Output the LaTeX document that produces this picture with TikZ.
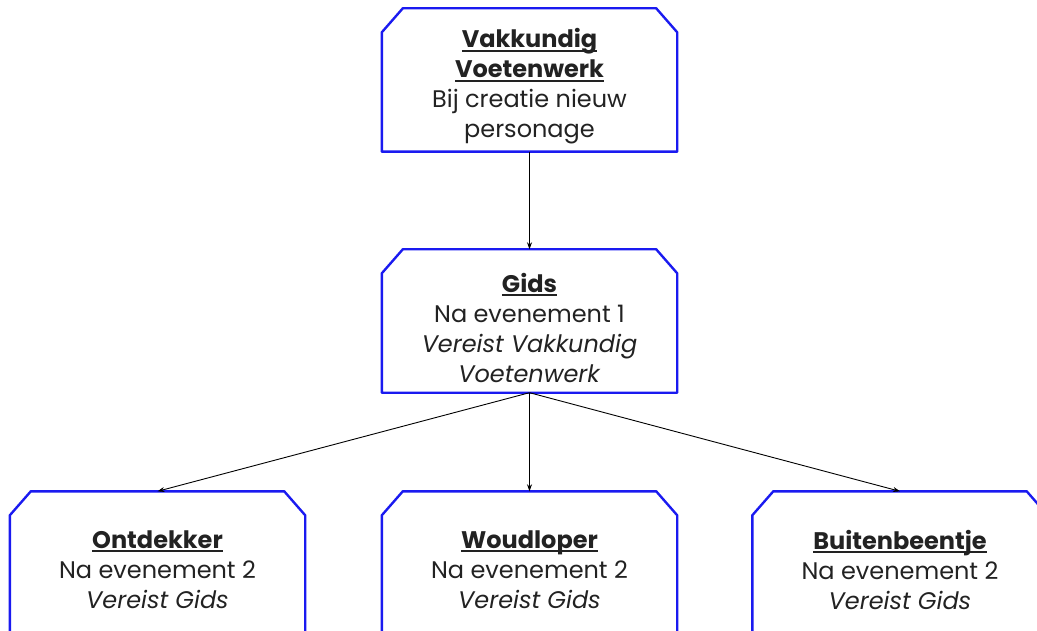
\documentclass[tikz,border=0pt]{standalone}
\usepackage{fontspec}
\setmainfont{Poppins}
\usetikzlibrary{calc,arrows.meta}
\definecolor{pathBlue}{HTML}{1A1AF0}
\definecolor{pathInk}{HTML}{222222}
\newcommand\pathhead[1]{\setbox0\hbox{\textbf{#1}}\rlap{\rule[-4pt]{\wd0}{1.8pt}}\box0}

\begin{document}
\begin{tikzpicture}[
    x=1pt, y=-1pt,
    path box/.style={minimum width=295pt, minimum height=143pt, inner sep=0pt},
    path text/.style={inner sep=0pt, text=pathInk, align=center,
      font=\fontsize{24}{30}\selectfont, yshift=-6.5pt},
    path edge/.style={draw=pathBlue, line width=2.4pt, line join=round},
    path link/.style={draw=black, line width=0.9pt, -{Stealth[length=7pt,width=5pt]}},
]
  \useasboundingbox (0,0) rectangle (1037,631);

  % Vaardigheden.
  \node[path box] (vakkundig) at (529.5,80) {};
  \node[path box] (gids) at (529.5,321) {};
  \node[path box] (ontdekker) at (157.5,563) {};
  \node[path box] (woudloper) at (529.5,563) {};
  \node[path box] (buiten) at (900,563) {};

  % Randen met afgeschuinde bovenhoeken.
  \foreach \n in {vakkundig,gids,ontdekker,woudloper,buiten} {
    \draw[path edge] (\n.south west) -- ($(\n.north west)+(0,24)$) -- ($(\n.north west)+(21,0)$)
      -- ($(\n.north east)+(-21,0)$) -- ($(\n.north east)+(0,24)$) -- (\n.south east) -- cycle;
  }

  % Teksten.
  \node[path text] (vakkundig-t) at (vakkundig.center) {\pathhead{Vakkundig}\\\pathhead{Voetenwerk}\\Bij creatie nieuw\\personage};
  \node[path text] (gids-t) at (gids.center) {\pathhead{Gids}\\Na evenement 1\\\textit{Vereist Vakkundig}\\\textit{Voetenwerk}};
  \node[path text] (ontdekker-t) at (ontdekker.center) {\pathhead{Ontdekker}\\Na evenement 2\\\textit{Vereist Gids}};
  \node[path text] (woudloper-t) at (woudloper.center) {\pathhead{Woudloper}\\Na evenement 2\\\textit{Vereist Gids}};
  \node[path text] (buiten-t) at (buiten.center) {\pathhead{Buitenbeentje}\\Na evenement 2\\\textit{Vereist Gids}};

  % Pijlen.
  \draw[path link] (vakkundig.south) -- (gids.north);
  \draw[path link] (gids.south) -- (ontdekker.north);
  \draw[path link] (gids.south) -- (woudloper.north);
  \draw[path link] (gids.south) -- (buiten.north);
\end{tikzpicture}
\end{document}
